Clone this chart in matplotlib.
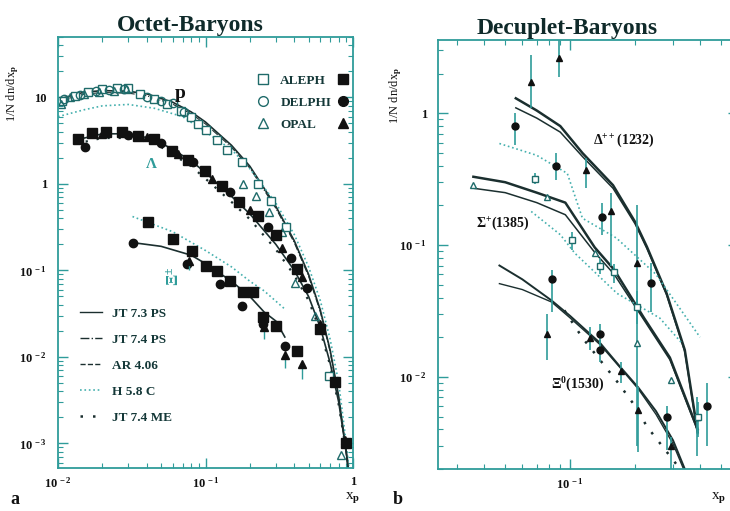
import numpy as np
import matplotlib
matplotlib.use("Agg")
import matplotlib.pyplot as plt
from matplotlib.ticker import LogLocator, FuncFormatter, NullFormatter
from matplotlib.lines import Line2D

# ---------------- data: left panel (octet baryons) ----------------
p_aleph_x = [0.0107, 0.013, 0.016, 0.02, 0.025, 0.03, 0.036, 0.045, 0.055, 0.068, 0.08, 0.089, 0.1, 0.12, 0.14, 0.177, 0.227, 0.28, 0.35, 0.69]
p_aleph_y = [9.0, 10.5, 11.5, 12.5, 12.8, 13.0, 11.0, 9.5, 8.5, 7.0, 6.0, 4.9, 4.2, 3.2, 2.5, 1.8, 1.0, 0.64, 0.32, 0.006]
p_delphi_x = [0.011, 0.014, 0.018, 0.022, 0.028, 0.04, 0.05, 0.06, 0.072]
p_delphi_y = [9.5, 10.8, 11.8, 12.2, 12.5, 10.0, 9.2, 8.6, 6.8]
p_opal_x = [0.0105, 0.012, 0.015, 0.019, 0.024, 0.029, 0.18, 0.22, 0.27, 0.33, 0.405, 0.55, 0.83]
p_opal_y = [8.5, 10.0, 11.0, 11.5, 12.0, 12.5, 1.0, 0.73, 0.48, 0.28, 0.071, 0.03, 0.00074]

lam_aleph_x = [0.0137, 0.017, 0.021, 0.027, 0.035, 0.045, 0.059, 0.076, 0.099, 0.129, 0.17, 0.227, 0.3, 0.42, 0.6, 0.755, 0.89]
lam_aleph_y = [3.3, 3.9, 4.0, 4.0, 3.6, 3.3, 2.4, 1.9, 1.4, 0.95, 0.62, 0.43, 0.26, 0.105, 0.021, 0.0052, 0.001]
lam_delphi_x = [0.0152, 0.03, 0.05, 0.082, 0.146, 0.265, 0.38, 0.49]
lam_delphi_y = [2.7, 3.7, 3.0, 1.8, 0.81, 0.32, 0.14, 0.062]
lam_opal_x = [0.02, 0.04, 0.065, 0.11, 0.2, 0.33, 0.45, 0.6, 0.88]
lam_opal_y = [3.8, 3.5, 2.2, 1.15, 0.5, 0.18, 0.085, 0.024, 0.0011]

xi_aleph_x = [0.041, 0.060, 0.081, 0.101, 0.12, 0.146, 0.18, 0.21, 0.245, 0.30, 0.42]
xi_aleph_y = [0.36, 0.23, 0.17, 0.114, 0.098, 0.075, 0.057, 0.057, 0.029, 0.023, 0.0118]
xi_delphi_x = [0.032, 0.075, 0.125, 0.177, 0.245, 0.345]
xi_delphi_y = [0.21, 0.12, 0.07, 0.039, 0.024, 0.0133]
xi_opal_x = [0.077, 0.25, 0.345, 0.45]
xi_opal_y = [0.13, 0.022, 0.0105, 0.0082]
xi_opal_ylo = [0.10, 0.016, 0.0075, 0.0055]

# model curves, left panel
p_jt73_x = [0.01, 0.015, 0.02, 0.03, 0.04, 0.06, 0.08, 0.1, 0.15, 0.2, 0.3, 0.4, 0.5, 0.6, 0.7, 0.8, 0.9, 0.93]
p_jt73_y = [9.5, 11.5, 12.0, 11.8, 11.0, 8.8, 6.8, 5.2, 2.8, 1.6, 0.55, 0.22, 0.09, 0.035, 0.012, 0.0035, 0.0008, 0.0005]
p_h58_x = [0.01, 0.015, 0.02, 0.03, 0.045, 0.07, 0.1, 0.15, 0.2, 0.3, 0.4, 0.5, 0.6, 0.7, 0.8, 0.9, 0.94]
p_h58_y = [6.0, 7.2, 8.0, 8.3, 7.5, 6.0, 4.0, 2.5, 1.5, 0.6, 0.26, 0.11, 0.045, 0.016, 0.005, 0.001, 0.0005]
lam_jt73_x = [0.013, 0.02, 0.03, 0.045, 0.06, 0.08, 0.1, 0.15, 0.2, 0.3, 0.4, 0.5, 0.6, 0.7, 0.8, 0.9, 0.93]
lam_jt73_y = [3.2, 3.8, 3.8, 3.3, 2.5, 1.85, 1.35, 0.72, 0.45, 0.2, 0.1, 0.05, 0.022, 0.0085, 0.003, 0.0008, 0.0005]
lam_me_y = [2.9, 3.4, 3.4, 3.0, 2.2, 1.6, 1.15, 0.62, 0.39, 0.175, 0.088, 0.045, 0.02, 0.008, 0.0028, 0.0008, 0.0005]
xi_jt73_x = [0.032, 0.05, 0.08, 0.1, 0.15, 0.2, 0.25, 0.3, 0.345]
xi_jt73_y = [0.21, 0.19, 0.15, 0.12, 0.075, 0.05, 0.033, 0.026, 0.017]
xi_h58_x = [0.032, 0.06, 0.1, 0.15, 0.2, 0.25, 0.35]
xi_h58_y = [0.42, 0.28, 0.17, 0.11, 0.075, 0.058, 0.035]

# ---------------- data: right panel (decuplet baryons) ----------------
dl_delphi_x = [0.0556, 0.086, 0.14, 0.236, 0.43]
dl_delphi_y = [0.80, 0.40, 0.163, 0.052, 0.006]
dl_delphi_lo = [0.57, 0.31, 0.12, 0.031, 0.003]
dl_delphi_hi = [1.0, 0.50, 0.21, 0.073, 0.009]
dl_opal_x = [0.066, 0.089, 0.119, 0.155, 0.205, 0.387]
dl_opal_y = [1.72, 2.65, 0.37, 0.18, 0.073, 0.005]
dl_opal_lo = [1.1, 1.9, 0.27, 0.07, 0.003, 0.0025]
dl_opal_hi = [2.75, 3.7, 0.46, 0.25, 0.2, 0.007]

sg_opal_x = [0.0356, 0.078, 0.13, 0.205, 0.293]
sg_opal_y = [0.285, 0.23, 0.087, 0.018, 0.0095]
sg_aleph_x = [0.069, 0.102, 0.138, 0.16, 0.205, 0.39]
sg_aleph_y = [0.316, 0.11, 0.07, 0.062, 0.034, 0.005]
sg_aleph_lo = [0.29, 0.092, 0.06, 0.052, 0.025, 0.0035]
sg_aleph_hi = [0.35, 0.125, 0.08, 0.072, 0.045, 0.0065]

x0_opal_x = [0.078, 0.123, 0.172, 0.207, 0.293]
x0_opal_y = [0.021, 0.0197, 0.011, 0.0056, 0.003]
x0_opal_lo = [0.0135, 0.016, 0.009, 0.0027, 0.002]
x0_opal_hi = [0.03, 0.024, 0.013, 0.0084, 0.0035]
x0_delphi_x = [0.082, 0.138, 0.138, 0.28]
x0_delphi_y = [0.055, 0.021, 0.016, 0.005]
x0_delphi_lo = [0.031, 0.018, 0.013, 0.0028]
x0_delphi_hi = [0.065, 0.025, 0.019, 0.006]

# model curves, right panel
dl_a_x = [0.056, 0.07, 0.09, 0.114, 0.158, 0.2, 0.227, 0.28, 0.34, 0.39]
dl_a_y = [1.3, 1.05, 0.8, 0.5, 0.285, 0.15, 0.097, 0.043, 0.016, 0.0038]
dl_b_y = [1.1, 0.92, 0.72, 0.47, 0.27, 0.145, 0.094, 0.042, 0.0155, 0.0037]
dl_h_x = [0.047, 0.07, 0.097, 0.114, 0.164, 0.25, 0.4]
dl_h_y = [0.59, 0.48, 0.35, 0.16, 0.113, 0.06, 0.02]
sg_a_x = [0.0356, 0.05, 0.07, 0.095, 0.13, 0.16, 0.22, 0.29, 0.39]
sg_a_y = [0.33, 0.3, 0.25, 0.21, 0.096, 0.065, 0.028, 0.014, 0.004]
sg_b_y = [0.27, 0.25, 0.21, 0.17, 0.088, 0.06, 0.027, 0.0135, 0.0039]
sg_h_x = [0.066, 0.09, 0.105, 0.165, 0.26, 0.33]
sg_h_y = [0.18, 0.12, 0.087, 0.043, 0.028, 0.018]
x0_a_x = [0.047, 0.06, 0.082, 0.1, 0.138, 0.17, 0.207, 0.25, 0.3, 0.34]
x0_a_y = [0.07, 0.055, 0.038, 0.029, 0.018, 0.012, 0.0083, 0.0055, 0.0033, 0.002]
x0_b_y = [0.051, 0.046, 0.037, 0.028, 0.0175, 0.0118, 0.0081, 0.0052, 0.0031, 0.0019]
x0_me_x = [0.094, 0.114, 0.167, 0.2, 0.227, 0.316]
x0_me_y = [0.032, 0.0198, 0.009, 0.006, 0.0042, 0.0021]

legend_models = ["JT 7.3 PS", "JT 7.4 PS", "AR 4.06", "H 5.8 C", "JT 7.4 ME"]
legend_exps = ["ALEPH", "DELPHI", "OPAL"]

# ---------------- style ----------------
plt.rcParams['font.family'] = ['Liberation Serif', 'DejaVu Serif']
plt.rcParams['font.weight'] = 'bold'
plt.rcParams['mathtext.fontset'] = 'custom'
plt.rcParams['mathtext.rm'] = 'Liberation Serif:bold'
plt.rcParams['mathtext.it'] = 'Liberation Serif:bold'
plt.rcParams['mathtext.bf'] = 'Liberation Serif:bold'

TEAL = '#2f9c9a'
OPEN = '#1f6b6a'
DARK = '#1b2f2f'
LTEAL = '#45b0ae'
BLK = '#111111'

fig = plt.figure(figsize=(7.30, 5.11), dpi=100)
axL = fig.add_axes([58/730, 43/511, 295/730, 431/511])
axR = fig.add_axes([438/730, 42/511, 300/730, 429/511])


def logfmt(v, pos):
    e = int(round(np.log10(v)))
    if e == 0:
        return '1'
    if e == 1:
        return '10'
    return r'10$^{\,%d}$' % e


def style_axes(ax):
    ax.set_xscale('log')
    ax.set_yscale('log')
    for s in ax.spines.values():
        s.set_color(TEAL)
        s.set_linewidth(1.3)
    ax.tick_params(which='both', direction='in', top=True, right=True, colors=TEAL,
                   labelcolor=BLK, labelsize=9)
    ax.tick_params(which='major', length=7, width=1.0)
    ax.tick_params(which='minor', length=3.5, width=0.8)
    ax.xaxis.set_major_formatter(FuncFormatter(logfmt))
    ax.yaxis.set_major_formatter(FuncFormatter(logfmt))
    ax.xaxis.set_minor_formatter(NullFormatter())
    ax.yaxis.set_minor_formatter(NullFormatter())
    ax.yaxis.set_minor_locator(LogLocator(base=10, subs=np.arange(2, 10)))
    ax.xaxis.set_minor_locator(LogLocator(base=10, subs=np.arange(2, 10)))
    ax.tick_params(axis='x', pad=6)
    ax.tick_params(axis='y', pad=8)


ms = 6

# ---------------- left panel ----------------
ax = axL
style_axes(ax)
ax.set_xlim(0.01, 1.0)
ax.set_ylim(5.2e-4, 50)

ax.plot(p_jt73_x, p_jt73_y, '-', color=DARK, lw=1.2)
ax.plot(p_jt73_x, [v * 0.95 for v in p_jt73_y], '-.', color=DARK, lw=0.8)
ax.plot(p_h58_x, p_h58_y, ':', color=LTEAL, lw=1.2)
ax.plot(lam_jt73_x, lam_jt73_y, '-', color=DARK, lw=1.2)
ax.plot(lam_jt73_x, lam_me_y, linestyle=(0, (1, 4)), color=DARK, lw=1.6)
ax.plot(xi_jt73_x, xi_jt73_y, '-', color=DARK, lw=1.2)
ax.plot(xi_h58_x, xi_h58_y, ':', color=LTEAL, lw=1.2)

ax.plot(p_aleph_x, p_aleph_y, 's', mfc='white', mec=OPEN, mew=1.0, ms=ms, ls='none')
ax.plot(p_delphi_x, p_delphi_y, 'o', mfc='none', mec=OPEN, mew=1.0, ms=ms, ls='none')
ax.plot(p_opal_x, p_opal_y, '^', mfc='none', mec=OPEN, mew=1.0, ms=ms, ls='none')
ax.plot(lam_aleph_x, lam_aleph_y, 's', color=BLK, ms=ms + 1, ls='none')
ax.plot(lam_delphi_x, lam_delphi_y, 'o', color=BLK, ms=ms, ls='none')
ax.plot(lam_opal_x, lam_opal_y, '^', color=BLK, ms=ms, ls='none')
ax.plot(xi_aleph_x, xi_aleph_y, 's', color=BLK, ms=ms + 1, ls='none')
ax.plot(xi_delphi_x, xi_delphi_y, 'o', color=BLK, ms=ms, ls='none')
ax.errorbar(xi_opal_x, xi_opal_y,
            yerr=[np.array(xi_opal_y) - np.array(xi_opal_ylo), np.zeros(len(xi_opal_y))],
            fmt='^', color=BLK, ms=ms, ecolor=TEAL, elinewidth=1.0, capsize=0)

ax.text(0.067, 11.0, 'p', fontsize=14, color=BLK, ha='center', va='center')
ax.text(0.043, 1.7, 'Λ', fontsize=11, color=TEAL, ha='center', va='center')
ax.text(0.062, 0.085, 'Ξ$^{\\pm}$', fontsize=12, color=TEAL, ha='center', va='center', rotation=90)

ax.set_title('Octet-Baryons', fontsize=17, fontweight='bold', color='#0f2a2a', pad=4, x=0.45)
ax.set_ylabel(r'1/N dn/dx$_{\rm p}$', fontsize=9, color=BLK)
ax.yaxis.set_label_coords(-0.125, 0.87)
ax.set_xlabel(r'x$_{\rm p}$', fontsize=11, color=BLK)
ax.xaxis.set_label_coords(1.0, -0.05)

open_h = [Line2D([], [], marker=m, mfc='none', mec=OPEN, ls='none', ms=7, mew=1.0) for m in ['s', 'o', '^']]
filled_h = [Line2D([], [], marker=m, color=BLK, ls='none', ms=7) for m in ['s', 'o', '^']]
leg1 = ax.legend(open_h, legend_exps, loc='upper left', bbox_to_anchor=(0.655, 0.925),
                 frameon=False, fontsize=9.5, handlelength=1.0, handletextpad=0.8,
                 labelspacing=0.75, borderaxespad=0)
for t in leg1.get_texts():
    t.set_color('#143838')
ax.add_artist(leg1)
leg2 = ax.legend(filled_h, ['', '', ''], loc='upper left', bbox_to_anchor=(0.925, 0.925),
                 frameon=False, fontsize=9.5, handlelength=1.0, handletextpad=0.0,
                 labelspacing=0.75, borderaxespad=0)
ax.add_artist(leg2)

model_h = [Line2D([], [], ls='-', color=DARK, lw=1.0),
           Line2D([], [], ls='-.', color=DARK, lw=1.0),
           Line2D([], [], ls='--', color=DARK, lw=1.0),
           Line2D([], [], ls=':', color=LTEAL, lw=1.2),
           Line2D([], [], ls=(0, (1, 4)), color=DARK, lw=1.8)]
leg3 = ax.legend(model_h, legend_models, loc='upper left', bbox_to_anchor=(0.055, 0.385),
                 frameon=False, fontsize=9.5, handlelength=1.7, handletextpad=0.8,
                 labelspacing=1.05, borderaxespad=0)
for t in leg3.get_texts():
    t.set_color('#143838')

# ---------------- right panel ----------------
ax = axR
style_axes(ax)
ax.set_xlim(0.0244, 0.6)
ax.set_ylim(0.002, 3.6)

ax.plot(dl_a_x, dl_a_y, '-', color=DARK, lw=1.8)
ax.plot(dl_a_x, dl_b_y, '-', color=DARK, lw=1.1)
ax.plot(dl_h_x, dl_h_y, ':', color=LTEAL, lw=1.2)
ax.plot(sg_a_x, sg_a_y, '-', color=DARK, lw=1.8)
ax.plot(sg_a_x, sg_b_y, '-', color=DARK, lw=1.1)
ax.plot(sg_h_x, sg_h_y, ':', color=LTEAL, lw=1.2)
ax.plot(x0_a_x, x0_a_y, '-', color=DARK, lw=1.4)
ax.plot(x0_a_x, x0_b_y, '-', color=DARK, lw=1.0)
ax.plot(x0_me_x, x0_me_y, ls=(0, (1, 4)), color=DARK, lw=1.8)


def eb(x, y, lo, hi, fmt, mfc, mec):
    y = np.array(y); lo = np.array(lo); hi = np.array(hi)
    ax.errorbar(x, y, yerr=[y - lo, hi - y], fmt=fmt, ms=5, mfc=mfc, mec=mec,
                ecolor=TEAL, elinewidth=1.2, capsize=0)


eb(dl_delphi_x, dl_delphi_y, dl_delphi_lo, dl_delphi_hi, 'o', BLK, BLK)
eb(dl_opal_x, dl_opal_y, dl_opal_lo, dl_opal_hi, '^', BLK, BLK)
ax.plot(sg_opal_x, sg_opal_y, '^', mfc='white', mec=OPEN, ms=5, ls='none')
eb(sg_aleph_x, sg_aleph_y, sg_aleph_lo, sg_aleph_hi, 's', 'white', OPEN)
eb(x0_opal_x, x0_opal_y, x0_opal_lo, x0_opal_hi, '^', BLK, BLK)
eb(x0_delphi_x, x0_delphi_y, x0_delphi_lo, x0_delphi_hi, 'o', BLK, BLK)

ax.text(0.177, 0.62, 'Δ$^{++}$(1232)', fontsize=10, color=BLK, ha='center', va='center')
ax.text(0.0485, 0.147, 'Σ$^{+}$(1385)', fontsize=10, color=BLK, ha='center', va='center')
ax.text(0.108, 0.0087, 'Ξ$^{0}$(1530)', fontsize=10, color=BLK, ha='center', va='center')

ax.set_title('Decuplet-Baryons', fontsize=17, fontweight='bold', color='#0f2a2a', pad=4, x=0.43)
ax.set_ylabel(r'1/N dn/dx$_{\rm p}$', fontsize=9, color=BLK)
ax.yaxis.set_label_coords(-0.115, 0.87)
ax.set_xlabel(r'x$_{\rm p}$', fontsize=11, color=BLK)
ax.xaxis.set_label_coords(0.935, -0.05)

fig.text(10/730, 1 - 500/511, 'a', fontsize=13, color=BLK, va='center', ha='left')
fig.text(393/730, 1 - 500/511, 'b', fontsize=13, color=BLK, va='center', ha='left')

fig.savefig('out.png', dpi=100)
